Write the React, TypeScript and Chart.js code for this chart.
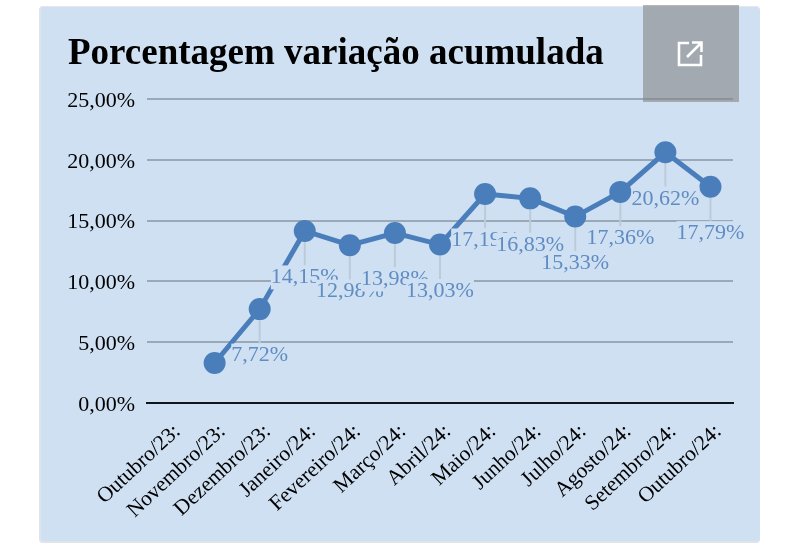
import React, { useEffect, useRef } from "react";
import { Chart, registerables } from "chart.js";

Chart.register(...registerables);

const title = "Porcentagem variação acumulada";
const categories = [
  "Outubro/23:", "Novembro/23:", "Dezembro/23:", "Janeiro/24:", "Fevereiro/24:",
  "Março/24:", "Abril/24:", "Maio/24:", "Junho/24:", "Julho/24:", "Agosto/24:",
  "Setembro/24:", "Outubro/24:",
];
const values = [null, 3.29, 7.72, 14.15, 12.98, 13.98, 13.03, 17.19, 16.83, 15.33, 17.36, 20.62, 17.79];
const pointLabels = ["", "", "7,72%", "14,15%", "12,98%", "13,98%", "13,03%", "17,19%", "16,83%", "15,33%", "17,36%", "20,62%", "17,79%"];

const SERIF = '"Liberation Serif"';
const CARD = "#cfe0f3";
const BLUE = "#4a7ebb";
const LABEL_BLUE = "#5f8cc2";
const LEADER_DROP = 46.5;

const labelPlugin = {
  id: "leaderLabels",
  beforeDatasetsDraw(chart: any) {
    const { ctx } = chart;
    const meta = chart.getDatasetMeta(0);
    ctx.save();
    ctx.strokeStyle = "#bccbda";
    ctx.lineWidth = 2;
    meta.data.forEach((p: any, i: number) => {
      if (!pointLabels[i]) return;
      ctx.beginPath();
      ctx.moveTo(p.x, p.y);
      ctx.lineTo(p.x, p.y + LEADER_DROP - 12);
      ctx.stroke();
    });
    ctx.restore();
  },
  afterDatasetsDraw(chart: any) {
    const { ctx } = chart;
    const meta = chart.getDatasetMeta(0);
    ctx.save();
    ctx.font = `22px ${SERIF}`;
    ctx.textAlign = "center";
    ctx.textBaseline = "middle";
    meta.data.forEach((p: any, i: number) => {
      const text = pointLabels[i];
      if (!text) return;
      const w = ctx.measureText(text).width;
      const cy = p.y + LEADER_DROP;
      ctx.fillStyle = CARD;
      ctx.fillRect(p.x - w / 2, cy - 12, w, 24);
      ctx.fillStyle = LABEL_BLUE;
      ctx.fillText(text, p.x, cy);
    });
    ctx.restore();
  },
};

export default function App() {
  const ref = useRef<HTMLCanvasElement>(null);
  useEffect(() => {
    const chart = new Chart(ref.current!, {
      type: "line",
      data: {
        labels: categories,
        datasets: [{
          data: values,
          borderColor: BLUE,
          backgroundColor: BLUE,
          borderWidth: 5,
          pointRadius: 11,
          pointHoverRadius: 11,
          pointBackgroundColor: BLUE,
          pointBorderColor: BLUE,
          pointBorderWidth: 0,
          tension: 0,
          spanGaps: false,
        }],
      },
      options: {
        responsive: false,
        animation: false,
        layout: { padding: { left: 68, right: 67, top: 32.5, bottom: 17 } },
        plugins: {
          legend: { display: false },
          tooltip: { enabled: false },
          title: {
            display: true,
            text: title,
            align: "start",
            color: "#000",
            font: { family: SERIF, size: 37, weight: "bold" },
            padding: { top: 0, bottom: 22.1 },
          },
        },
        scales: {
          x: {
            offset: true,
            grid: { display: false },
            border: { display: true, color: "#10151c", width: 2 },
            ticks: {
              color: "#000",
              font: { family: SERIF, size: 21.5 },
              minRotation: 43,
              maxRotation: 43,
              autoSkip: false,
              padding: 8,
              labelOffset: 8,
            },
            afterFit(scale: any) { scale.height = 140; },
          },
          y: {
            min: 0,
            max: 25,
            grid: {
              drawTicks: false,
              lineWidth: 2,
              color: (c: any) => (c.tick.value === 0 ? "#10151c" : "#9aa9b8"),
            },
            border: { display: false },
            ticks: {
              stepSize: 5,
              color: "#000",
              padding: 12,
              labelOffset: 2,
              font: { family: SERIF, size: 22 },
              callback: (v: any) => Number(v).toFixed(2).replace(".", ",") + "%",
            },
            afterFit(scale: any) { scale.width = 79; },
          },
        },
      },
      plugins: [labelPlugin],
    } as any);
    return () => chart.destroy();
  }, []);

  return (
    <div style={{ position: "absolute", left: 0, top: 0, width: 800, height: 560, background: "#fff", overflow: "hidden" }}>
      <div style={{ position: "absolute", left: 39, top: 6, width: 721, height: 537, background: CARD, borderRadius: 4, boxSizing: "border-box", borderLeft: "2px solid #dfe4ea", borderBottom: "2px solid #dfe4ea", borderTop: "1px solid #e3e8ee" }} />
      <canvas ref={ref} width={800} height={560} style={{ position: "absolute", left: 0, top: 0 }} />
      <div style={{ position: "absolute", left: 643, top: 5, width: 96, height: 97, background: "rgba(132,131,131,0.6)" }}>
        <svg width="28" height="28" viewBox="0 0 28 28" style={{ position: "absolute", left: 33, top: 35 }} fill="none" stroke="#fff" strokeWidth="2.6">
          <path d="M13 3H3v22h22V15" />
          <path d="M11 17L25 3M16 2.5h9.5V12" />
        </svg>
      </div>
    </div>
  );
}
